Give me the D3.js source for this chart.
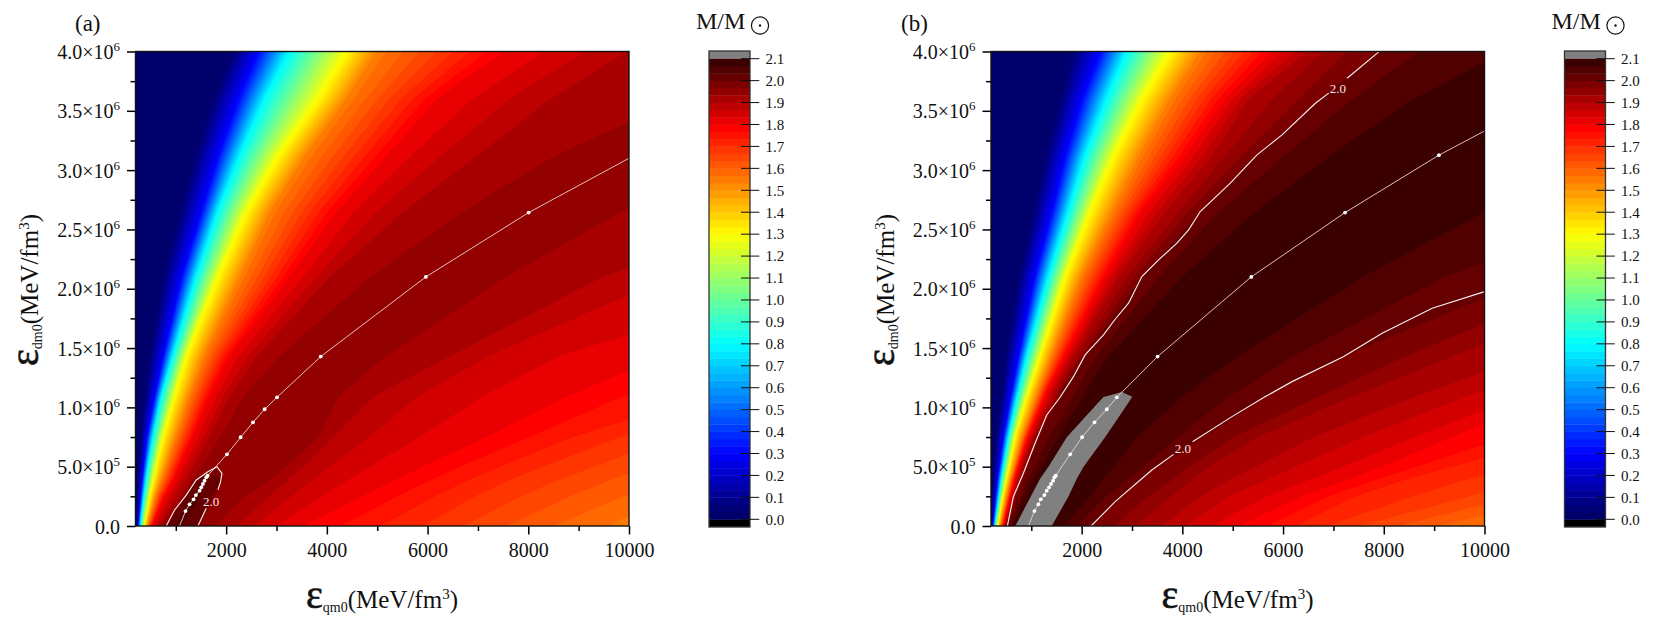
<!DOCTYPE html>
<html><head><meta charset="utf-8">
<script src="https://cdn.jsdelivr.net/npm/d3@7"></script>
<style>
html,body{margin:0;padding:0;background:#fff}
svg{display:block}
text{font-family:"Liberation Serif","Times New Roman",serif;fill:#111}
</style></head><body><svg id="c" width="1661" height="622"></svg>
<script>
// ---------- axes / legend ----------
const xMajor=[2000,4000,6000,8000,10000];
const xMinor=[1000,3000,5000,7000,9000];
const yMajor=[0,0.5,1,1.5,2,2.5,3,3.5,4];
const yMinor=[0.25,0.75,1.25,1.75,2.25,2.75,3.25,3.75];
const legendTicks=[0,.1,.2,.3,.4,.5,.6,.7,.8,.9,1,1.1,1.2,1.3,1.4,1.5,1.6,1.7,1.8,1.9,2,2.1];
const colorStopLevels=[0,.05,.3,.8,1.3,1.783,2.083];
const colorStops=["#00006a","#000074","#0000ff","#00ffff","#ffff00","#ff0000","#3b0000"];
const bandStep=1/30, bandCount=63;

// ---------- panel (a): M contour crossings, x in MeV/fm3, y rows in 10^6 MeV/fm3 ----------
const rowsYA=[0,.25,.4,.5,.75,1.09,1.43,2.1,2.65,3.12,3.6,4];
const upLevelsA=[.034,.3,.8,1.3,1.55,1.8,1.85,1.9,1.933,1.967,2.0];
const upXA=[
[215,235,245,260,300,380,480,745,1075,1375,1740,2135],
[255,300,335,360,425,580,745,1110,1505,1835,2235,2630],
[295,365,410,445,545,710,940,1405,1835,2270,2765,3260],
[375,480,560,610,745,975,1210,1835,2400,3030,3825,4390],
[445,600,730,810,1010,1275,1570,2300,2900,3595,4420,5020],
[530,775,975,1075,1340,1670,2070,3260,4190,5185,6180,7505],
[600,890,1090,1210,1505,1870,2335,3660,4720,5915,7240,8695],
[665,1010,1220,1340,1670,2070,2600,4055,5515,6975,8430,9955],
[730,1130,1340,1505,1870,2335,3030,4850,6675,8495,10980,12010],
[790,1175,1405,null,null,null,null,null,null,null,null,null],
[810,1195,1425,null,null,null,null,null,null,null,null,null]];
const ridgeXA=[1040,1385,1620,1815,2290,3010,3880,5965,8005,10090,12180,13930];
const ridgeMA=[2.04,2.05,2.02,1.96,1.955,1.955,1.955,1.955,1.955,1.952,1.95,1.948];
const downLevelsA=[2.0,1.967,1.933,1.9,1.85,1.8,1.75,1.7,1.65,1.6,1.55];
const downXA=[
[1440,1738,1917,null,null,null,null,null,null,null,null,null],
[1460,1755,1935,null,null,null,null,null,null,null,null,null],
[1790,2365,2930,3195,3860,4255,5185,7570,9890,12210,14660,16650],
[2200,2865,3260,3525,4125,4920,6445,9490,13000,16000,19300,22000],
[2730,3525,3990,4320,5185,6245,7570,11480,15320,18640,21950,24600],
[3525,4687,5416,5913,7172,8762,10684,17970,21950,25260,28580,31230],
[4655,5747,6476,7006,8431,10420,15320,22610,26590,29900,33220,35870],
[5915,6940,7702,8298,9823,13335,19960,26590,30560,33880,37190,39840],
[7105,8298,9160,9823,11347,14660,23940,30565,34500,37800,41100,43800],
[8495,9889,10817,11480,13335,16650,21290,33880,37800,41100,44400,47100],
[10090,11347,12341,13004,18640,23940,29900,36530,40500,43800,47100,49800]];

// ---------- panel (b) ----------
const rowsYB=[0,.25,.4,.5,.75,1.09,1.13,1.43,2.1,2.65,3.12,3.6,4];
const upLevelsB=[.034,.3,.8,1.3,1.55,1.8,1.9,1.933,1.967,2.0,2.033,2.067,2.1];
const upXB=[
[207,227,247,260,306,399,412,492,744,1042,1274,1572,1817],
[240,293,333,366,445,591,611,744,1062,1406,1671,2003,2367],
[273,359,406,445,545,717,744,909,1340,1738,2069,2500,2897],
[333,432,505,558,677,909,942,1174,1671,2168,2632,3196,3759],
[386,518,598,664,823,1108,1141,1406,2003,2632,3163,3792,4389],
[445,585,677,744,942,1274,1307,1671,2467,3196,4057,4852,5780],
[479,644,750,823,1029,1440,1459,1837,2732,3660,4587,5316,6476],
[492,671,783,856,1068,1493,1512,1923,2897,3925,4852,5780,6808],
[505,697,810,889,1108,1539,1552,2003,3050,4124,5184,6310,7271],
[525,724,843,923,1141,1572,1592,2069,3196,4355,5482,6741,7901],
[585,810,943,1075,1340,1837,1870,2301,3527,4720,6012,7371,8696],
[631,889,1055,1208,1539,2036,2069,2533,3991,5449,6940,8597,10419],
[677,989,1174,1340,1705,2434,null,null,null,null,null,null,null]];
const ridgeXB=[923,1247,1453,1618,2009,2712,2798,3507,5369,7251,9080,10916,12453];
const ridgeMB=[2.14,2.15,2.15,2.14,2.13,2.105,2.1,2.09,2.085,2.085,2.085,2.08,2.075];
const downLevelsB=[2.1,2.067,2.033,2.0,1.967,1.933,1.9,1.867,1.833,1.8,1.733,1.667,1.6,1.55];
const downXB=[
[1406,1738,1903,2036,2467,3010,null,null,null,null,null,null,null],
[1638,2169,2434,2632,3096,3991,4124,5084,7570,10001,12010,14329,15986],
[1903,2500,2931,3229,3925,4919,5084,6211,9226,12672,15323,17974,19962],
[2188,2798,3196,3494,4422,5648,5813,7205,11015,14660,17974,20625,23276],
[2632,3328,3825,4124,5018,6708,6907,8431,12208,15986,19299,21950,24601],
[3063,3792,4223,4521,5515,7371,7636,9359,13335,17311,20625,23276,25926],
[3593,4355,4985,5449,6609,8630,8895,10817,15323,19299,22613,25264,27914],
[4057,4919,5714,6244,7570,9624,9889,12010,17311,21287,24601,27252,29903],
[4587,5681,6609,7205,8630,10685,10949,13004,18305,22613,25926,28577,31228],
[5117,6377,7338,7967,9359,11280,11545,14660,21287,25264,28577,31228,33879],
[6244,7437,8497,9359,11546,14660,15323,19962,25264,29240,32552,35203,37854],
[7503,9690,10949,12010,14660,18637,19299,23938,29240,33216,36530,39180,41831],
[9061,11545,13004,13998,16649,20625,21287,26589,31891,35867,39180,41831,44482],
[11678,13998,15323,16317,18637,22613,23276,28577,33878,37854,41168,43818,46469]];

// ---------- white 2.0 contours (segments broken at their labels) ----------
const whiteA=[
 {x:[810,976,1208,1406,1638,1817,1917,1890,1837],y:[0,.135,.261,.388,.458,.5,.444,.374,.304]},
 {x:[1605,1440],y:[.149,0]}];
const whiteB=[
 {x:[525,644,843,1075,1307,1572,1837,2069,2434,2665,2931,3196,3527,3892,4124,4355,4952,5482,5979,6642,6907],
  y:[0,.247,.444,.697,.936,1.085,1.259,1.442,1.611,1.743,1.878,2.103,2.243,2.384,2.496,2.651,2.89,3.129,3.297,3.564,3.649]},
 {x:[7271,7901],y:[3.775,3.997]},
 {x:[2188,2665,3394,3825],y:[0,.205,.472,.604]},
 {x:[4203,4985,5648,6178,7205,7967,8961,10001],y:[.711,.922,1.091,1.217,1.428,1.625,1.836,1.976]}];
const contourLabelsA=[{x:1700,y:.21}];
const contourLabelsB=[{x:7090,y:3.69},{x:4012,y:.65}];

// ---------- marked sequence lines ----------
const markY=[.126,.183,.225,.261,.298,.326,.354,.382,.41,.424,.604,.748,.874,.984,1.085,1.428,2.1,2.642];
const markXA=[1194,1274,1353,1400,1473,1506,1539,1572,1605,1632,2016,2288,2533,2765,3010,3878,5966,8007];
const markYB=[...markY,3.126];
const markXB=[1062,1141,1188,1261,1307,1353,1393,1433,1459,1486,1771,2009,2255,2500,2699,3507,5369,7231,9094];
const lineEndsA={start:[1075,0],end:[10000,3.1]};
const lineEndsB={start:[943,0],end:[10000,3.33]};

// ---------- drawing ----------
const svg=d3.select("#c");
const colorScale=d3.scaleLinear().domain(colorStopLevels).range(colorStops).interpolate(d3.interpolateRgb).clamp(true);
const bandColor=k=>k>=bandCount?"#808080":colorScale((k+.5)*bandStep);
const levels=d3.range(1,bandCount+1).map(k=>k*bandStep);

function buildColumns(rowsY,upLevels,upX,ridgeX,ridgeM,downLevels,downX){
  return rowsY.map((_,r)=>{
    const xs=[100],ms=[.01];
    upLevels.forEach((l,c)=>{const v=upX[c][r];xs.push(v==null?ridgeX[r]:v);ms.push(Math.min(l,ridgeM[r]));});
    xs.push(ridgeX[r]);ms.push(ridgeM[r]);
    downLevels.forEach((l,c)=>{const v=downX[c][r];xs.push(v==null?ridgeX[r]:v);ms.push(Math.min(l,ridgeM[r]));});
    return {xs,ms};
  });
}

function panel(ox,tag,tagX,P){
  const L=135.5+ox,R=629+ox,T=51.5,B=526,W=R-L,H=B-T;
  const x=d3.scaleLinear().domain([200,10000]).range([L,R]);
  const y=d3.scaleLinear().domain([0,4]).range([B,T]);
  const id="clip"+tag;
  svg.append("clipPath").attr("id",id).append("rect").attr("x",L).attr("y",T).attr("width",W).attr("height",H);
  const g=svg.append("g").attr("clip-path",`url(#${id})`);

  const step=1.25,nx=Math.round(W/step),ny=Math.round(H/step);
  const sx=W/nx,sy=H/ny;
  const cols=buildColumns(P.rowsY,P.upLevels,P.upX,P.ridgeX,P.ridgeM,P.downLevels,P.downX);
  const vals=new Float64Array(nx*ny);
  for(let j=0;j<ny;j++){
    const yv=y.invert(T+(j+.5)*sy);
    let r=d3.bisectRight(P.rowsY,yv)-1; r=Math.max(0,Math.min(P.rowsY.length-2,r));
    const f=(yv-P.rowsY[r])/(P.rowsY[r+1]-P.rowsY[r]);
    const a=cols[r],b=cols[r+1];
    let last=-Infinity;
    const kx=a.xs.map((v,c)=>{const w=v+(b.xs[c]-v)*f;last=Math.max(last,w+1e-6);return last;});
    const km=a.ms.map((v,c)=>v+(b.ms[c]-v)*f);
    const m=d3.scaleLinear().domain(kx).range(km).clamp(true);
    for(let i=0;i<nx;i++) vals[j*nx+i]=m(x.invert(L+(i+.5)*sx));
  }
  const path=d3.geoPath(d3.geoTransform({point(px,py){this.stream.point(L+px*sx,T+py*sy);}}));
  g.append("rect").attr("x",L).attr("y",T).attr("width",W).attr("height",H).attr("fill",bandColor(0));
  const contours=d3.contours().size([nx,ny]).thresholds(levels)(vals);
  g.selectAll("path.band").data(contours).join("path").attr("class","band")
    .attr("d",d=>path(d)).attr("fill",(d,i)=>bandColor(i+1));

  const line=d3.line().x(d=>x(d[0])).y(d=>y(d[1]));
  const seq=[P.ends.start,...P.markX.map((v,i)=>[v,P.markY[i]]),P.ends.end];
  g.append("path").attr("d",line(seq)).attr("fill","none").attr("stroke","#e6d6d6").attr("stroke-width",.9);
  P.white.forEach(s=>g.append("path").attr("d",line(s.x.map((v,i)=>[v,s.y[i]])))
    .attr("fill","none").attr("stroke","#fff").attr("stroke-opacity",.93).attr("stroke-width",1.15));
  g.selectAll("circle.m").data(P.markX.map((v,i)=>[v,P.markY[i]])).join("circle").attr("class","m")
    .attr("cx",d=>x(d[0])).attr("cy",d=>y(d[1])).attr("r",1.9).attr("fill","#fff");
  g.selectAll("text.cl").data(P.labels).join("text").attr("class","cl")
    .attr("x",d=>x(d.x)).attr("y",d=>y(d.y)+4.5).attr("text-anchor","middle")
    .attr("font-size",13).style("fill","#f2e6e6").text("2.0");

  const styleAxis=a=>{a.select(".domain").remove();a.selectAll("line").attr("stroke","#000").attr("stroke-width",1.5);};
  const ax=svg.append("g").attr("transform",`translate(0,${B})`);
  ax.call(d3.axisBottom(x).tickValues(xMajor).tickSize(8.5).tickFormat("")).call(styleAxis);
  ax.selectAll(".tick").append("text").attr("y",31).attr("text-anchor","middle").attr("font-size",20)
    .text(d=>d);
  svg.append("g").attr("transform",`translate(0,${B})`)
    .call(d3.axisBottom(x).tickValues(xMinor).tickSize(5).tickFormat("")).call(styleAxis);
  const ay=svg.append("g").attr("transform",`translate(${L},0)`);
  ay.call(d3.axisLeft(y).tickValues(yMajor).tickSize(8.5).tickFormat("")).call(styleAxis);
  ay.selectAll(".tick").each(function(d){
    const t=d3.select(this).append("text").attr("x",-15.5).attr("y",7).attr("text-anchor","end").attr("font-size",20);
    if(d===0){t.text("0.0");return;}
    const small=d<1;
    t.append("tspan").text((small?d*10:d).toFixed(1)+"×10");
    t.append("tspan").attr("font-size",13).attr("dy",-8).text(small?"5":"6");
  });
  svg.append("g").attr("transform",`translate(${L},0)`)
    .call(d3.axisLeft(y).tickValues(yMinor).tickSize(5).tickFormat("")).call(styleAxis);
  svg.append("rect").attr("x",L).attr("y",T).attr("width",W).attr("height",H).attr("fill","none").attr("stroke","#111").attr("stroke-width",1.4);

  svg.append("text").attr("x",tagX).attr("y",31).attr("font-size",23).text(`(${tag})`);

  const title=(t,sub)=>{
    t.append("tspan").attr("font-size",40).attr("stroke","#111").attr("stroke-width",.6).text("ε");
    t.append("tspan").attr("font-size",14).attr("dy",4).text(sub);
    t.append("tspan").attr("dy",-4).text("(MeV/fm");
    t.append("tspan").attr("font-size",15).attr("dy",-9).text("3");
    t.append("tspan").attr("dy",9).text(")");
  };
  title(svg.append("text").attr("x",382+ox).attr("y",608).attr("text-anchor","middle").attr("font-size",25),"qm0");
  title(svg.append("text").attr("transform",`translate(${38+ox},290) rotate(-90)`).attr("text-anchor","middle").attr("font-size",25),"dm0");

  const cL=709+ox,cR=750+ox;
  const cy=d3.scaleLinear().domain([0,2.1]).range([519.3,58.7]);
  const cb=svg.append("g");
  cb.append("rect").attr("x",cL).attr("y",cy(0)).attr("width",cR-cL).attr("height",527-cy(0)).attr("fill","#000");
  cb.append("rect").attr("x",cL).attr("y",51).attr("width",cR-cL).attr("height",cy(2.1)-51).attr("fill","#808080");
  cb.selectAll("rect.b").data(d3.range(bandCount)).join("rect").attr("class","b")
    .attr("x",cL).attr("width",cR-cL).attr("y",k=>cy((k+1)*bandStep)).attr("height",k=>cy(k*bandStep)-cy((k+1)*bandStep)+.4)
    .attr("fill",bandColor);
  cb.append("rect").attr("x",cL).attr("y",51).attr("width",cR-cL).attr("height",476).attr("fill","none").attr("stroke","#333").attr("stroke-width",1.3);
  cb.selectAll("line.t").data(legendTicks).join("line").attr("class","t")
    .attr("x1",cR-9).attr("x2",cR+9.3).attr("y1",d=>cy(d)).attr("y2",d=>cy(d)).attr("stroke","#111").attr("stroke-width",1);
  cb.selectAll("text.t").data(legendTicks).join("text").attr("class","t")
    .attr("x",cR+15.5).attr("y",d=>cy(d)+5.3).attr("font-size",15).text(d=>d.toFixed(1));
  svg.append("text").attr("x",696+ox).attr("y",29).attr("font-size",24).text("M/M");
  svg.append("circle").attr("cx",760+ox).attr("cy",25.5).attr("r",8.6).attr("fill","none").attr("stroke","#111").attr("stroke-width",1.2);
  svg.append("circle").attr("cx",760+ox).attr("cy",25.5).attr("r",1.2).attr("fill","#111");
}

panel(0,"a",75,{rowsY:rowsYA,upLevels:upLevelsA,upX:upXA,ridgeX:ridgeXA,ridgeM:ridgeMA,downLevels:downLevelsA,downX:downXA,
  white:whiteA,labels:contourLabelsA,markX:markXA,markY:markY,ends:lineEndsA});
panel(855.5,"b",901,{rowsY:rowsYB,upLevels:upLevelsB,upX:upXB,ridgeX:ridgeXB,ridgeM:ridgeMB,downLevels:downLevelsB,downX:downXB,
  white:whiteB,labels:contourLabelsB,markX:markXB,markY:markYB,ends:lineEndsB});
</script></body></html>
